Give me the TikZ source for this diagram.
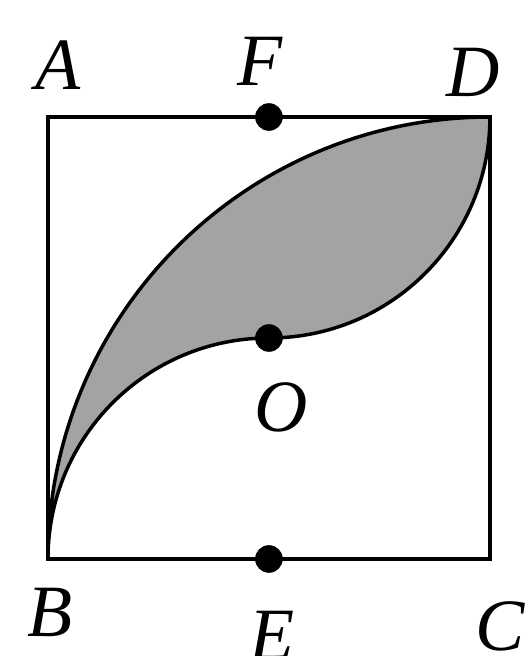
\documentclass[tikz,border=0pt]{standalone}
\usepackage{fontspec}
\setmainfont{Liberation Serif}
\usepackage{xcolor}
\definecolor{leafgray}{HTML}{A3A3A3}

\begin{document}
\begin{tikzpicture}[x=1cm, y=1cm,
  lbl/.style={font=\fontsize{19}{19}\selectfont\itshape, inner sep=0pt},
  pt/.style={fill=black}]
  \useasboundingbox (-0.434,-0.878) rectangle (4.362,5.059);
  % corners and midpoints
  \coordinate (A) at (0,4);
  \coordinate (B) at (0,0);
  \coordinate (C) at (4,0);
  \coordinate (D) at (4,4);
  \coordinate (E) at (2,0);
  \coordinate (F) at (2,4);
  \coordinate (O) at (2,2);
  % shaded leaf
  \filldraw[fill=leafgray, draw=black, line width=0.9pt]
    (B) arc[start angle=180, end angle=90, radius=4]
        arc[start angle=0, end angle=-90, radius=2]
        arc[start angle=90, end angle=180, radius=2] -- cycle;
  % square
  \draw[line width=1.2pt] (A) -- (D) -- (C) -- (B) -- cycle;
  % dots
  \fill[pt] (F) circle (0.125);
  \fill[pt] (O) circle (0.125);
  \fill[pt] (E) circle (0.125);
  % labels
  \node[lbl] (lA) at (0.09,4.47) {A};
  \node[lbl] (lF) at (1.92,4.50) {F};
  \node[lbl] (lD) at (3.85,4.40) {D};
  \node[lbl] (lB) at (0.02,-0.48) {B};
  \node[lbl] (lE) at (2.03,-0.69) {E};
  \node[lbl] (lC) at (4.09,-0.61) {C};
  \node[lbl] (lO) at (2.11,1.37) {O};
\end{tikzpicture}
\end{document}
